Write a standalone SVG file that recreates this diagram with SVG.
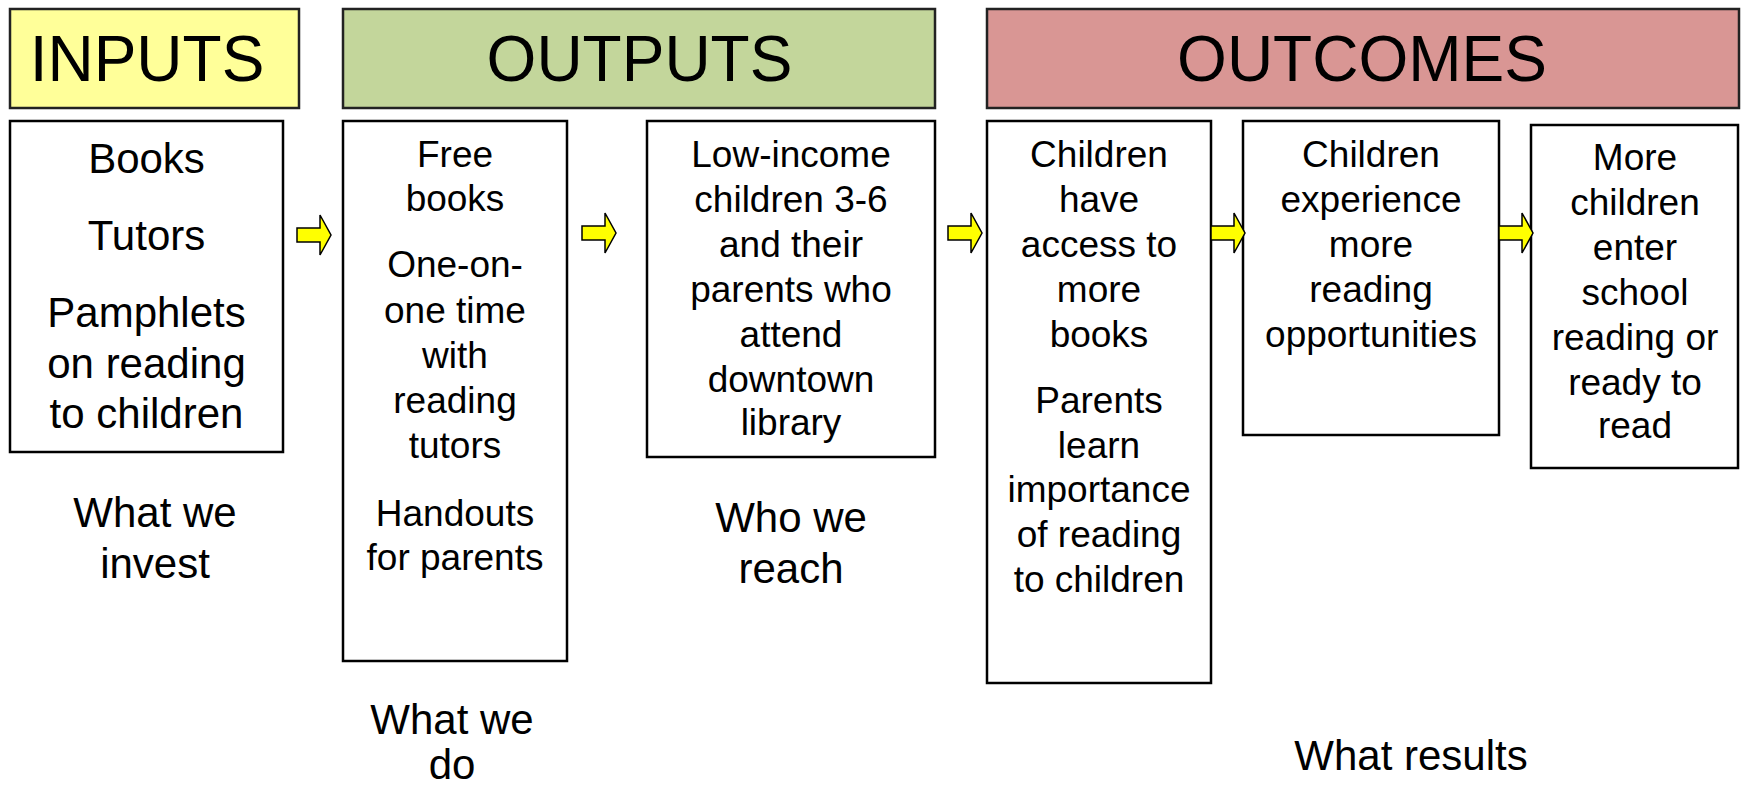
<svg xmlns="http://www.w3.org/2000/svg" width="1741" height="788" viewBox="0 0 1741 788">
<style>
text{font-family:"Liberation Sans",Arial,sans-serif;fill:#000;text-anchor:middle}
.hd{font-size:64px}
.b42{font-size:42px}
.b37{font-size:37px}
.lbl{font-size:42px}
.box{fill:#fff;stroke:#000;stroke-width:2.5}
.hbox{stroke:#222;stroke-width:2.5}
.arr{fill:#ffff00;stroke:#000;stroke-width:1.5;stroke-linejoin:miter}
</style>
<defs>
<path id="arrow" d="M0,-7 L23,-7 L23,-20 L34,0 L23,20 L23,7 L0,7 Z"/>
</defs>
<rect width="1741" height="788" fill="#fff"/>

<g id="hdr-inputs">
<rect class="hbox" x="10" y="9" width="289" height="99" fill="#ffff99"/>
<text class="hd" x="147" y="81">INPUTS</text>
</g>
<g id="hdr-outputs">
<rect class="hbox" x="343" y="9" width="592" height="99" fill="#c3d69b"/>
<text class="hd" x="639.5" y="81">OUTPUTS</text>
</g>
<g id="hdr-outcomes">
<rect class="hbox" x="987" y="9" width="752" height="99" fill="#d99694"/>
<text class="hd" x="1362" y="81">OUTCOMES</text>
</g>

<g id="node-inputs">
<rect class="box" x="10" y="121" width="273" height="331"/>
<text class="b42" x="146.5" y="173">Books</text>
<text class="b42" x="146.5" y="250">Tutors</text>
<text class="b42" x="146.5" y="327">Pamphlets</text>
<text class="b42" x="146.5" y="378">on reading</text>
<text class="b42" x="146.5" y="428">to children</text>
</g>

<g id="node-activities">
<rect class="box" x="343" y="121" width="224" height="540"/>
<text class="b37" x="455" y="167">Free</text>
<text class="b37" x="455" y="211">books</text>
<text class="b37" x="455" y="277">One-on-</text>
<text class="b37" x="455" y="323">one time</text>
<text class="b37" x="455" y="368">with</text>
<text class="b37" x="455" y="413">reading</text>
<text class="b37" x="455" y="458">tutors</text>
<text class="b37" x="455" y="526">Handouts</text>
<text class="b37" x="455" y="570">for parents</text>
</g>

<g id="node-participants">
<rect class="box" x="647" y="121" width="288" height="336"/>
<text class="b37" x="791" y="167">Low-income</text>
<text class="b37" x="791" y="212">children 3-6</text>
<text class="b37" x="791" y="257">and their</text>
<text class="b37" x="791" y="302">parents who</text>
<text class="b37" x="791" y="347">attend</text>
<text class="b37" x="791" y="392">downtown</text>
<text class="b37" x="791" y="435">library</text>
</g>

<g id="node-short">
<rect class="box" x="987" y="121" width="224" height="562"/>
<text class="b37" x="1099" y="167">Children</text>
<text class="b37" x="1099" y="212">have</text>
<text class="b37" x="1099" y="257">access to</text>
<text class="b37" x="1099" y="302">more</text>
<text class="b37" x="1099" y="347">books</text>
<text class="b37" x="1099" y="413">Parents</text>
<text class="b37" x="1099" y="458">learn</text>
<text class="b37" x="1099" y="502">importance</text>
<text class="b37" x="1099" y="547">of reading</text>
<text class="b37" x="1099" y="592">to children</text>
</g>

<g id="node-medium">
<rect class="box" x="1243" y="121" width="256" height="314"/>
<text class="b37" x="1371" y="167">Children</text>
<text class="b37" x="1371" y="212">experience</text>
<text class="b37" x="1371" y="257">more</text>
<text class="b37" x="1371" y="302">reading</text>
<text class="b37" x="1371" y="347">opportunities</text>
</g>

<g id="node-long">
<rect class="box" x="1531" y="125" width="207" height="343"/>
<text class="b37" x="1635" y="170">More</text>
<text class="b37" x="1635" y="215">children</text>
<text class="b37" x="1635" y="260">enter</text>
<text class="b37" x="1635" y="305">school</text>
<text class="b37" x="1635" y="350">reading or</text>
<text class="b37" x="1635" y="395">ready to</text>
<text class="b37" x="1635" y="438">read</text>
</g>

<g id="connectors">
<use href="#arrow" class="arr" transform="translate(297,235)"/>
<use href="#arrow" class="arr" transform="translate(582,233)"/>
<use href="#arrow" class="arr" transform="translate(948,233)"/>
<use href="#arrow" class="arr" transform="translate(1211,233)"/>
<use href="#arrow" class="arr" transform="translate(1499,233)"/>
</g>

<g id="labels">
<text class="lbl" x="155" y="527">What we</text>
<text class="lbl" x="155" y="578">invest</text>
<text class="lbl" x="452" y="734">What we</text>
<text class="lbl" x="452" y="779">do</text>
<text class="lbl" x="791" y="532">Who we</text>
<text class="lbl" x="791" y="583">reach</text>
<text class="lbl" x="1411" y="770">What results</text>
</g>
</svg>
